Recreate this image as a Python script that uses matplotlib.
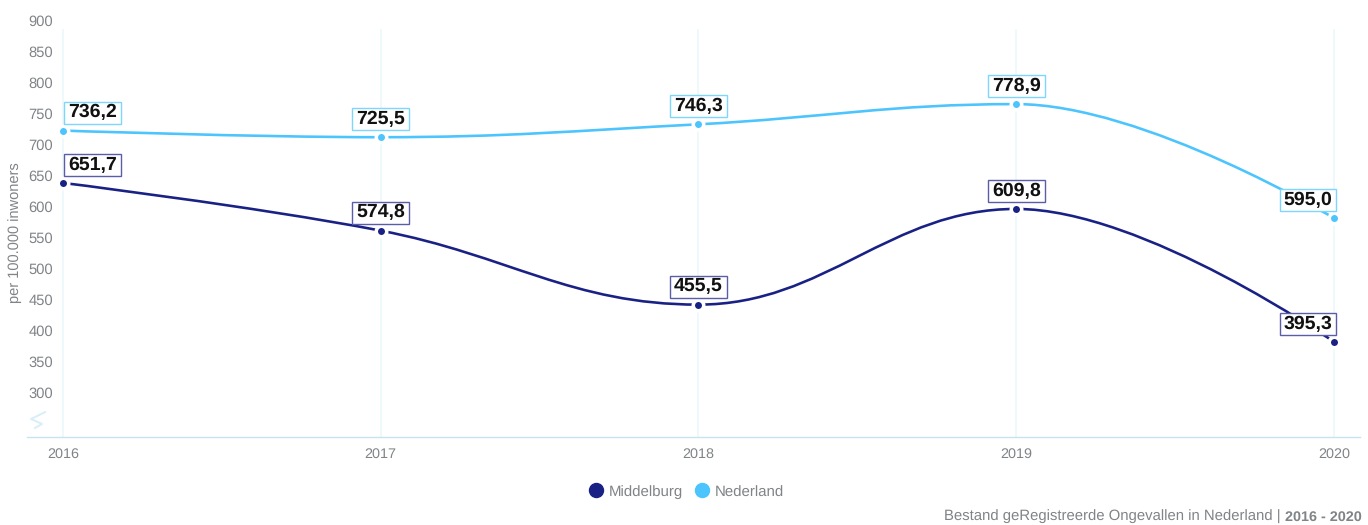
import numpy as np
import matplotlib
matplotlib.use('Agg')
import matplotlib.pyplot as plt
from matplotlib.lines import Line2D
from matplotlib.patches import PathPatch
from matplotlib.path import Path
from matplotlib.transforms import ScaledTranslation

plt.rcParams['font.family'] = ['Liberation Sans', 'DejaVu Sans']
plt.rcParams['text.hinting'] = 'no_hinting'

# data
years = [2016, 2017, 2018, 2019, 2020]
middelburg = [651.7, 574.8, 455.5, 609.8, 395.3]
nederland = [736.2, 725.5, 746.3, 778.9, 595.0]
yticks = list(range(300, 901, 50))
credit_text = 'Bestand geRegistreerde Ongevallen in Nederland | '
credit_period = '2016 - 2020'

NAVY = '#1a2185'
SKY = '#4cc4fd'
NAVY_BOX = '#5a5ea6'
SKY_BOX = '#7ed6fb'
GREY = '#808487'

W, H = 1368, 525
px = 72 / 100  # one pixel in points


def spline_path(xs, ys, smoothing=1.5):
    # same control points as a highcharts spline
    denom = smoothing + 1
    verts = [(xs[0], ys[0])]
    codes = [Path.MOVETO]
    right = (xs[0], ys[0])
    for i in range(1, len(xs)):
        if i < len(xs) - 1:
            lx = (smoothing * xs[i] + xs[i - 1]) / denom
            ly = (smoothing * ys[i] + ys[i - 1]) / denom
            rx = (smoothing * xs[i] + xs[i + 1]) / denom
            ry = (smoothing * ys[i] + ys[i + 1]) / denom
            corr = ((ry - ly) * (rx - xs[i])) / (rx - lx) + ys[i] - ry
            ly += corr
            ry += corr
            if ly > ys[i - 1] and ly > ys[i]:
                ly = max(ys[i - 1], ys[i])
                ry = 2 * ys[i] - ly
            elif ly < ys[i - 1] and ly < ys[i]:
                ly = min(ys[i - 1], ys[i])
                ry = 2 * ys[i] - ly
            if ry > ys[i + 1] and ry > ys[i]:
                ry = max(ys[i + 1], ys[i])
                ly = 2 * ys[i] - ry
            elif ry < ys[i + 1] and ry < ys[i]:
                ry = min(ys[i + 1], ys[i])
                ly = 2 * ys[i] - ry
        else:
            lx, ly = xs[i], ys[i]
            rx, ry = xs[i], ys[i]
        verts += [right, (lx, ly), (xs[i], ys[i])]
        codes += [Path.CURVE4] * 3
        right = (rx, ry)
    return Path(verts, codes)


def label_box(x0, y0, width, height, mutation_size):
    # fixed size box in pixels, square,pad= only gives one pad for both directions
    cy = y0 + height / 2
    left, right = x0 - 4, x0 + width + 4
    low, top = cy - 11, cy + 11
    return Path([(left, low), (right, low), (right, top), (left, top), (left, low)], closed=True)


fig = plt.figure(figsize=(W / 100, H / 100), dpi=100, facecolor='white')
ax = fig.add_axes([27 / W, (H - 437) / H, (1360 - 27) / W, (437 - 29) / H])

x = np.arange(len(years))
ax.set_xlim(-0.1133, 4.082)
ax.set_ylim(242, 900)

ax.set_xticks(x, [str(y) for y in years])
ax.set_yticks(yticks, [str(v) for v in yticks])
ax.tick_params(axis='x', length=0, pad=7.5, labelsize=10.4, labelcolor=GREY)
ax.tick_params(axis='y', length=0, pad=-26 * px, labelsize=10.6, labelcolor=GREY)
# y labels sit a bit above their real value in the original
shift = ScaledTranslation(0, 9 / 100, fig.dpi_scale_trans)
for lab in ax.get_yticklabels():
    lab.set_transform(lab.get_transform() + shift)

ax.grid(axis='x', color='#ebf8fc', lw=1.2)
ax.set_axisbelow(True)
for s in ['top', 'left', 'right']:
    ax.spines[s].set_visible(False)
ax.spines['bottom'].set_color('#c8e2ee')
ax.spines['bottom'].set_linewidth(1.0)

# small axis break sign
ax.plot([0.0135, 0.003, 0.0113, 0.006], [0.061, 0.044, 0.032, 0.022], transform=ax.transAxes,
        color='#d8eef8', lw=1.4, clip_on=False)

for vals, col, box in [(middelburg, NAVY, NAVY_BOX), (nederland, SKY, SKY_BOX)]:
    ax.add_patch(PathPatch(spline_path(x, vals), fc='none', ec=col, lw=2.6 * px, zorder=3))
    ax.plot(x, vals, ls='none', marker='o', ms=10.5 * px, mfc=col, mec='white', mew=3.5 * px,
            zorder=4, clip_on=False)
    for i, v in enumerate(vals):
        dx, ha = 0, 'center'
        if i == 0:
            dx, ha = 5, 'left'
        elif i == len(vals) - 1:
            dx, ha = -1.5, 'right'
        ax.annotate(f'{v:.1f}'.replace('.', ','), (x[i], v), xytext=(dx * px, 20 * px),
                    textcoords='offset points', ha=ha, va='center_baseline', fontsize=14,
                    fontweight='bold', color='#111111', zorder=5,
                    bbox=dict(boxstyle=label_box, fc='white', ec=box, lw=1.4 * px))

ax.set_ylabel('per 100.000 inwoners', fontsize=10.5, color=GREY)
ax.yaxis.set_label_coords(-5 / (1360 - 27), 0.5)

handles = [Line2D([], [], ls='none', marker='o', ms=14 * px, color=NAVY, label='Middelburg'),
           Line2D([], [], ls='none', marker='o', ms=14 * px, color=SKY, label='Nederland')]
leg = fig.legend(handles=handles, loc='center', bbox_to_anchor=(685 / W, (H - 491.6) / H), ncol=2,
                 frameon=False, fontsize=10.8, labelcolor=GREY, handletextpad=0.15,
                 columnspacing=0.57, handlelength=1.4)
# the baseline of the second label rounds one pixel higher than the first
leg.get_texts()[1].set_y(-1)

# credit, bold part right aligned and the plain part put against it
t = fig.text(1362 / W, (H - 521) / H, credit_period, ha='right', va='baseline', fontsize=10.35,
             fontweight='bold', color=GREY)
left = t.get_window_extent(fig.canvas.get_renderer()).x0
fig.text(left / W, (H - 521) / H, credit_text, ha='right', va='baseline', fontsize=10.75, color=GREY)

fig.savefig('out.png', dpi=100, facecolor='white')
